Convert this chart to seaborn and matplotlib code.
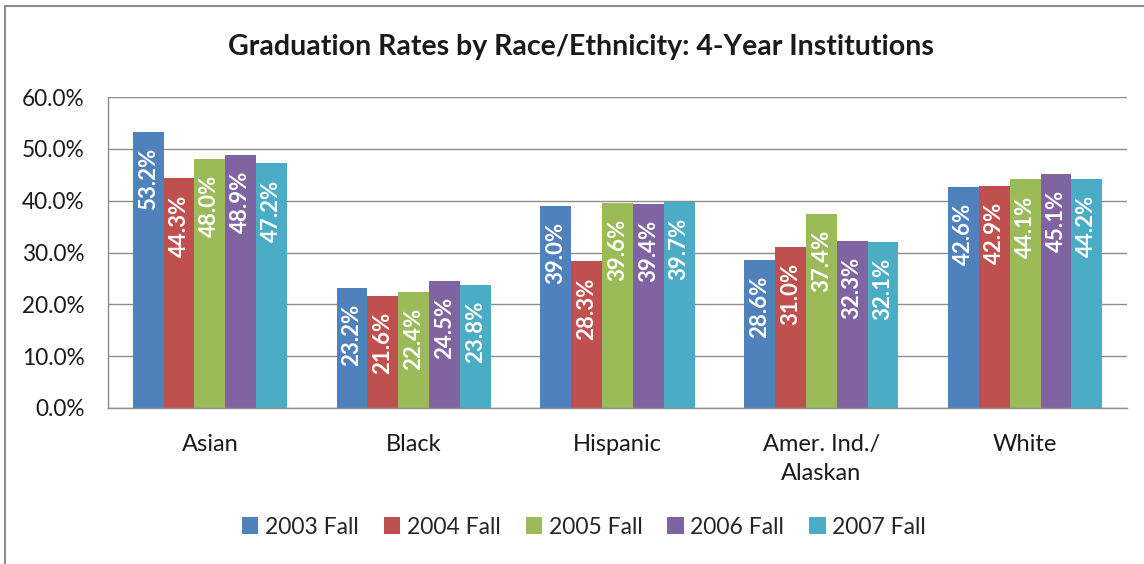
import pandas as pd
import matplotlib.pyplot as plt
import seaborn as sns
from matplotlib.patches import Rectangle, Patch

# chart values (percent)
groups = ["Asian", "Black", "Hispanic", "Amer. Ind./\nAlaskan", "White"]
years = ["2003 Fall", "2004 Fall", "2005 Fall", "2006 Fall", "2007 Fall"]
rate_2003 = [53.2, 23.2, 39.0, 28.6, 42.6]
rate_2004 = [44.3, 21.6, 28.3, 31.0, 42.9]
rate_2005 = [48.0, 22.4, 39.6, 37.4, 44.1]
rate_2006 = [48.9, 24.5, 39.4, 32.3, 45.1]
rate_2007 = [47.2, 23.8, 39.7, 32.1, 44.2]
y_ticks = [0, 10, 20, 30, 40, 50, 60]

colors = ["#4F81BD", "#C0504D", "#9BBB59", "#8064A2", "#4BACC6"]


def build_frame():
    rows = []
    for year, vals in zip(years, [rate_2003, rate_2004, rate_2005, rate_2006, rate_2007]):
        for g, v in zip(groups, vals):
            rows.append({"group": g, "year": year, "rate": v})
    return pd.DataFrame(rows)


def main():
    data = build_frame()

    sns.set_style("white")
    plt.rcParams["font.family"] = ["Lato", "DejaVu Sans"]

    fig = plt.figure(figsize=(11.44, 5.64), dpi=100)
    ax = fig.add_axes([108 / 1144, 1 - 408 / 564, (1127 - 108) / 1144, (408 - 97) / 564])

    sns.barplot(data=data, x="group", y="rate", hue="year", palette=colors,
                width=0.757, gap=0, saturation=1, errorbar=None, ax=ax,
                edgecolor="none", legend=False)

    # data labels, rotated, inside the bar top
    for container in ax.containers:
        for bar in container:
            h = bar.get_height()
            ax.annotate(f"{h:.1f}%", (bar.get_x() + bar.get_width() / 2, h),
                        xytext=(0, -11.5), textcoords="offset points",
                        rotation=90, ha="center", va="top",
                        color="white", fontsize=16, fontweight="bold")

    ax.set_ylim(0, 60)
    ax.set_xlim(-0.5, 4.5)
    ax.set_yticks(y_ticks)
    ax.set_yticklabels([f"{t:.1f}%" for t in y_ticks])
    ax.set_xlabel("")
    ax.set_ylabel("")
    for lbl in ax.get_xticklabels():
        lbl.set_linespacing(1.45)

    # category boundary ticks
    ax.set_xticks([i + 0.5 for i in range(-1, 5)], minor=True)
    ax.tick_params(axis="x", which="major", length=0, pad=19, labelsize=17,
                   colors="#1a1a1a")
    ax.tick_params(axis="x", which="minor", length=7, width=1, color="#8c8c8c")
    ax.tick_params(axis="y", length=6, width=1, color="#8c8c8c", pad=11,
                   labelsize=16.3, labelcolor="#1a1a1a")

    ax.grid(axis="y", color="#8c8c8c", linewidth=1)
    ax.set_axisbelow(True)
    for side in ["top", "right"]:
        ax.spines[side].set_visible(False)
    for side in ["left", "bottom"]:
        ax.spines[side].set_color("#8c8c8c")
        ax.spines[side].set_linewidth(1)

    fig.text(581 / 1144, 1 - 47 / 564, "Graduation Rates by Race/Ethnicity: 4-Year Institutions",
             ha="center", va="center", fontsize=20.5, fontweight="bold", color="#1a1a1a")

    handles = [Patch(facecolor=c, edgecolor="none") for c in colors]
    fig.legend(handles, years, loc="center", bbox_to_anchor=(584 / 1144, 1 - 527 / 564),
               ncol=5, frameon=False, fontsize=16.5, handlelength=0.7, handleheight=0.7,
               handletextpad=0.3, columnspacing=1.1)

    # outer chart frame
    fig.patches.append(Rectangle((5 / 1144, -0.05), 1.1, 1.05 - 6 / 564,
                                 transform=fig.transFigure, fill=False,
                                 edgecolor="#8c8c8c", linewidth=1.5))

    fig.savefig("out.png", dpi=100)


if __name__ == "__main__":
    main()
